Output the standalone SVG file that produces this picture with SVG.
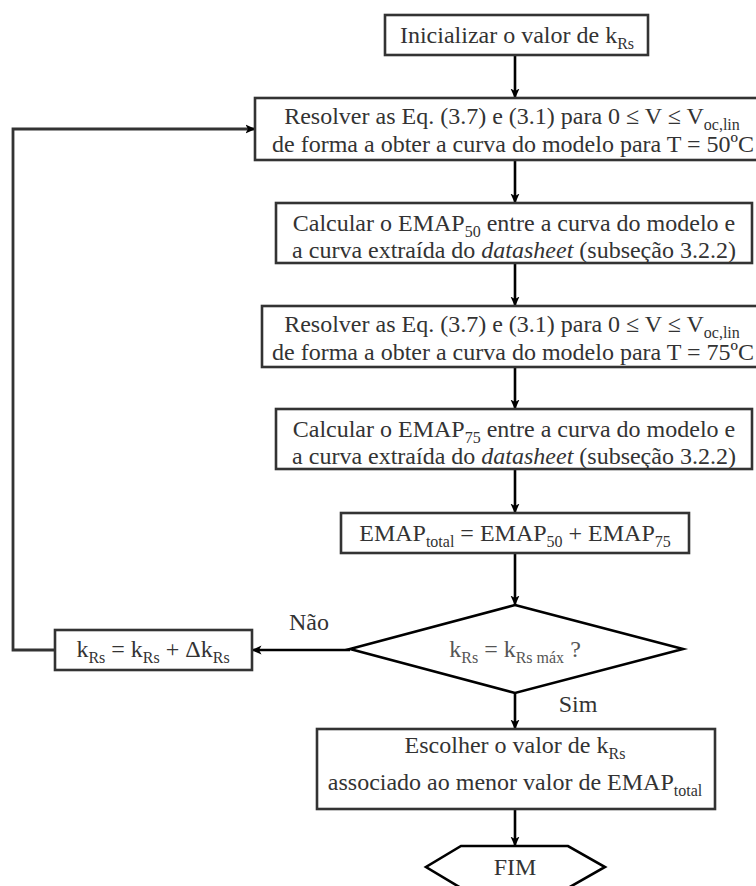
<svg xmlns="http://www.w3.org/2000/svg" width="756" height="886" viewBox="0 0 756 886">
  <style>
    .box { fill: #ffffff; stroke: #333333; stroke-width: 2.6; }
    .shape { fill: #ffffff; stroke: #000000; stroke-width: 2.6; }
    .t { font-family: 'Liberation Serif', 'Times New Roman', serif; font-size: 24px; fill: #333333; text-anchor: middle; }
    .dt { fill: #555555; }
    .sub { font-size: 16px; }
    .conn { fill: none; stroke: #000000; stroke-width: 2.6; }
    .loop { fill: none; stroke: #333333; stroke-width: 2.8; }
  </style>
  <defs>
    <marker id="arrow" viewBox="0 0 10 10" refX="9.5" refY="5" markerWidth="10" markerHeight="10" markerUnits="userSpaceOnUse" orient="auto">
      <path d="M0,0.5 L10,5 L0,9.5 L2.5,5 z" fill="#000000"/>
    </marker>
  </defs>

  <rect width="756" height="886" fill="#ffffff"/>

  <!-- connectors -->
  <g id="connectors">
    <line class="conn" x1="515" y1="55" x2="515" y2="98" marker-end="url(#arrow)"/>
    <line class="conn" x1="515" y1="160" x2="515" y2="203" marker-end="url(#arrow)"/>
    <line class="conn" x1="515" y1="263" x2="515" y2="306" marker-end="url(#arrow)"/>
    <line class="conn" x1="515" y1="367" x2="515" y2="409" marker-end="url(#arrow)"/>
    <line class="conn" x1="515" y1="469" x2="515" y2="513" marker-end="url(#arrow)"/>
    <line class="conn" x1="515" y1="553" x2="515" y2="605" marker-end="url(#arrow)"/>
    <line class="conn" x1="350" y1="650" x2="252" y2="650" marker-end="url(#arrow)"/>
    <line class="conn" x1="515" y1="693" x2="515" y2="729" marker-end="url(#arrow)"/>
    <line class="conn" x1="515" y1="809" x2="515" y2="846" marker-end="url(#arrow)"/>
    <polyline class="loop" points="55,650 13,650 13,129 255,129" marker-end="url(#arrow)"/>
    <text class="t" x="309" y="630">Não</text>
    <text class="t" x="578" y="712">Sim</text>
  </g>

  <!-- start -->
  <g id="n-init">
    <rect class="box" x="385" y="15" width="263" height="40"/>
    <text class="t" x="517" y="43">Inicializar o valor de k<tspan class="sub" dy="6">Rs</tspan></text>
  </g>

  <!-- model solve at 50 C -->
  <g id="n-solve50">
    <rect class="box" x="255" y="98" width="520" height="62"/>
    <text class="t" x="512" y="124">Resolver as Eq. (3.7) e (3.1) para 0 ≤ V ≤ V<tspan class="sub" dy="6">oc,lin</tspan></text>
    <text class="t" x="513" y="152">de forma a obter a curva do modelo para T = 50ºC</text>
  </g>

  <!-- error at 50 C -->
  <g id="n-emap50">
    <rect class="box" x="276" y="203" width="476" height="60"/>
    <text class="t" x="514" y="231">Calcular o EMAP<tspan class="sub" dy="6">50</tspan><tspan dy="-6"> entre a curva do modelo e</tspan></text>
    <text class="t" x="514" y="258">a curva extraída do <tspan font-style="italic">datasheet</tspan> (subseção 3.2.2)</text>
  </g>

  <!-- model solve at 75 C -->
  <g id="n-solve75">
    <rect class="box" x="262" y="306" width="520" height="61"/>
    <text class="t" x="512" y="332">Resolver as Eq. (3.7) e (3.1) para 0 ≤ V ≤ V<tspan class="sub" dy="6">oc,lin</tspan></text>
    <text class="t" x="513" y="360">de forma a obter a curva do modelo para T = 75ºC</text>
  </g>

  <!-- error at 75 C -->
  <g id="n-emap75">
    <rect class="box" x="276" y="409" width="476" height="60"/>
    <text class="t" x="514" y="437">Calcular o EMAP<tspan class="sub" dy="6">75</tspan><tspan dy="-6"> entre a curva do modelo e</tspan></text>
    <text class="t" x="514" y="464">a curva extraída do <tspan font-style="italic">datasheet</tspan> (subseção 3.2.2)</text>
  </g>

  <!-- total error -->
  <g id="n-total">
    <rect class="box" x="341" y="513" width="348" height="40"/>
    <text class="t" x="515" y="541">EMAP<tspan class="sub" dy="6">total</tspan><tspan dy="-6"> = EMAP</tspan><tspan class="sub" dy="6">50</tspan><tspan dy="-6">  + EMAP</tspan><tspan class="sub" dy="6">75</tspan></text>
  </g>

  <!-- decision -->
  <g id="n-decision">
    <polygon class="shape" points="515,605 683,649 515,693 350,649"/>
    <text class="t dt" x="515" y="657">k<tspan class="sub" dy="6">Rs</tspan><tspan dy="-6"> = k</tspan><tspan class="sub" dy="6">Rs máx</tspan><tspan dy="-6"> ?</tspan></text>
  </g>

  <!-- increment -->
  <g id="n-increment">
    <rect class="box" x="55" y="630" width="197" height="40"/>
    <text class="t" x="153" y="657">k<tspan class="sub" dy="6">Rs</tspan><tspan dy="-6"> = k</tspan><tspan class="sub" dy="6">Rs</tspan><tspan dy="-6"> + Δk</tspan><tspan class="sub" dy="6">Rs</tspan></text>
  </g>

  <!-- choose best -->
  <g id="n-choose">
    <rect class="box" x="317" y="729" width="398" height="80"/>
    <text class="t" x="515" y="753">Escolher o valor de k<tspan class="sub" dy="6">Rs</tspan></text>
    <text class="t" x="515" y="790">associado ao menor valor de EMAP<tspan class="sub" dy="6">total</tspan></text>
  </g>

  <!-- end -->
  <g id="n-end">
    <polygon class="shape" points="461,846 568,846 605,867 568,888 461,888 426,867"/>
    <text class="t" x="515" y="875">FIM</text>
  </g>
</svg>
